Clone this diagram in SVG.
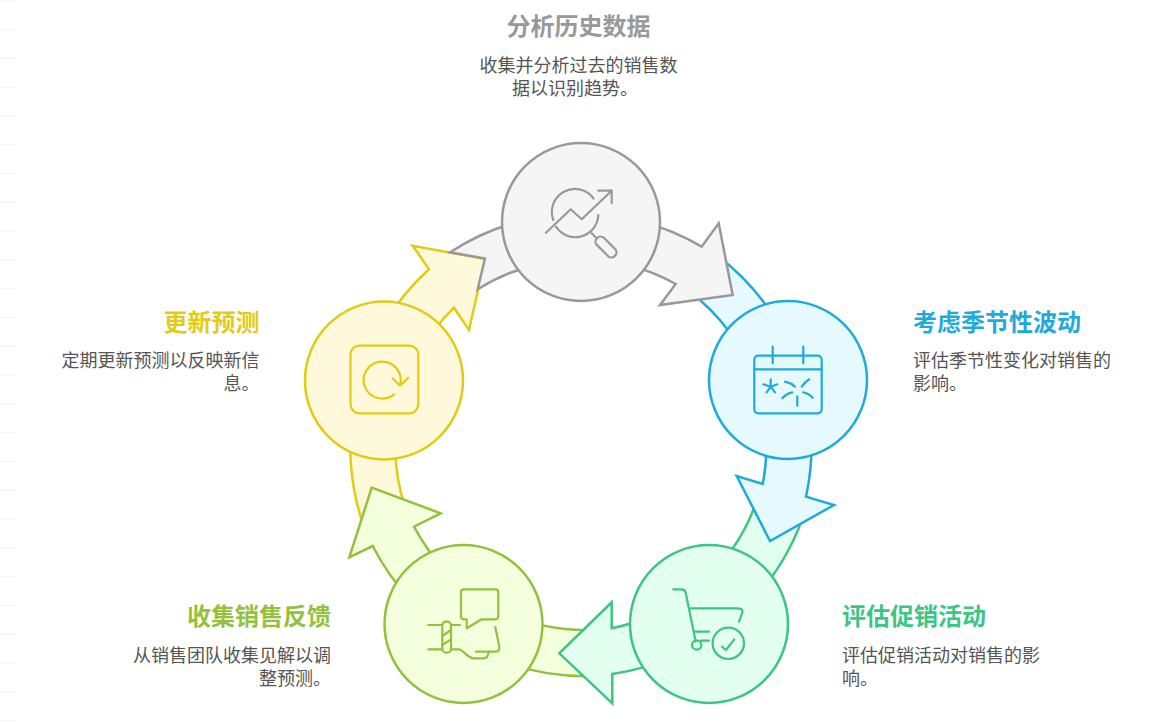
<svg xmlns="http://www.w3.org/2000/svg" width="1153" height="723" viewBox="0 0 1153 723">
<style>
text{font-family:"Noto Sans CJK SC","Noto Sans",sans-serif}
.t{font-size:24px;font-weight:700}
.b{font-size:18px;fill:#555}
.e{text-anchor:end}
.m{text-anchor:middle}
.c{stroke-width:2.5;stroke-linejoin:miter}
.i{fill:none;stroke-width:2.2;stroke-linecap:round;stroke-linejoin:round}
.gray{stroke:#999;fill:#f5f5f5}
.blue{stroke:#1eabda;fill:#e6f9ff}
.green{stroke:#3cc583;fill:#e3fff0}
.lime{stroke:#93c13c;fill:#f3ffdd}
.yellow{stroke:#e3cb14;fill:#fff9db}
</style>
<path id="edge-marks" fill="none" stroke="#f5f5f5" stroke-width="1.4" d="M0,1H16.7M0,29.5H16.7M0,58.3H16.7M0,87.2H16.7M0,115.8H16.7M0,144.6H16.7M0,173.4H16.7M0,202.2H16.7M0,231H16.7M0,259.8H16.7M0,288.6H16.7M0,317.4H16.7M0,346.2H16.7M0,375H16.7M0,403.8H16.7M0,432.6H16.7M0,461.4H16.7M0,490.2H16.7M0,519H16.7M0,547.8H16.7M0,576.6H16.7M0,605.4H16.7M0,634.2H16.7M0,663H16.7M0,691.8H16.7M0,720.6H16.7"/>
<g id="connectors">
<path class="c yellow" d="M367,535A240,240 0 0 1 429,269.3L412.7,245.7L485,259L469,330L454,307.7A194.5,194.5 0 0 0 406,510Z"/>
<path class="c lime" d="M595,676A240,240 0 0 1 372.7,546L349.3,557.3L371.7,487.7L440.7,513.3L414,526.7A194.5,194.5 0 0 0 595,630Z"/>
<path class="c green" d="M806,508A240,240 0 0 1 612.3,674V703.3L559.3,653.3L611.7,602.3V628.3A195,195 0 0 0 757,500Z"/>
<path class="c blue" d="M718,256A240,240 0 0 1 806,496.7L834,505L770,541L736.7,476L762.7,484A194,194 0 0 0 690,292Z"/>
<path class="c gray" d="M450,252.3A240,240 0 0 1 701.7,246.7L718.7,223.3L732.7,295L660,305L675.7,284A195,195 0 0 0 477.7,289.3L485,258.5Z"/>
</g>
<g id="node-analyze">
<circle class="c gray" cx="581" cy="222" r="79"/>
<g class="i gray" style="fill:none">
<path d="M553.3,220A23,23 0 0 1 593.5,198.5M598.3,215A23,23 0 0 1 556,226.7"/>
<path d="M546,232.7L570.7,209.3L581.7,219.3L611.7,190.7M598.3,190.7H611.7V203.3M591.7,233.3L596.7,238.3"/>
<rect x="-12.5" y="-5" width="25" height="10" rx="4.5" transform="translate(606,247) rotate(45)"/>
</g>
<text class="t m" x="578.5" y="35" fill="#999">分析历史数据</text>
<text class="b m" x="578.5" y="72">收集并分析过去的销售数</text>
<text class="b m" x="575" y="95">据以识别趋势。</text>
</g>
<g id="node-season">
<circle class="c blue" cx="788" cy="380" r="79"/>
<g class="i blue" style="fill:none">
<rect x="754.3" y="355.7" width="67.4" height="57.6" rx="4"/>
<path d="M754.3,369.3H821.7M772.7,346.7V363.3M803.3,346.7V363.3"/>
<path d="M770.7,379.3V386.7M763.3,384.3L770.7,386.7L777.3,384.3M766.7,392.3L770.7,386.7L775,392.3"/>
<path d="M785,381.7Q791,383 795,386.7M801.7,386.7Q805,382 809.3,379.3M782.3,398.3Q787,393 792.3,392.3M803.3,392.3Q808,393 812.7,397.7M797.3,396.7V405.7"/>
</g>
<text class="t" x="913" y="331" fill="#1eabda">考虑季节性波动</text>
<text class="b" x="913" y="367">评估季节性变化对销售的</text>
<text class="b" x="913" y="390">影响。</text>
</g>
<g id="node-promo">
<circle class="c green" cx="709" cy="624" r="79"/>
<g class="i green" style="fill:none">
<path d="M673.3,589.3H681.5Q685,589.3 685.7,592.7L695.7,641.7M691,608.3H737Q743,608.3 742.5,612L739,621.7M695,631.7H709M701,640.7H709M722,646.7L726,650L734.3,639.3"/>
<circle cx="696.7" cy="645" r="4.7"/>
<circle cx="728.3" cy="643.3" r="15.7"/>
</g>
<text class="t" x="842" y="625" fill="#3cc583">评估促销活动</text>
<text class="b" x="842" y="662">评估促销活动对销售的影</text>
<text class="b" x="842" y="685">响。</text>
</g>
<g id="node-feedback">
<circle class="c lime" cx="463.5" cy="624" r="79"/>
<g class="i lime" style="fill:none">
<path d="M464,589.3H495.3Q498.3,589.3 498.3,592.3V616.3Q498.3,619.3 495.3,619.3H481.7L466.7,628.3V619.3H464Q461,619.3 461,616.3V592.3Q461,589.3 464,589.3Z"/>
<rect x="442.3" y="621.7" width="8.7" height="31" rx="4"/>
<path d="M428.3,625H442.3M451,625H460M428.3,649.3H442.3M442.3,636L451,630M442.3,645L451,639.3"/>
<path d="M451,649.3H459C463,649.3 467,658.3 474,658.3H484Q488,658 488.5,652.7M476,651.7H495Q500,651.7 499.3,646.7L495.3,627"/>
</g>
<text class="t e" x="331" y="625" fill="#93c13c">收集销售反馈</text>
<text class="b e" x="331" y="662">从销售团队收集见解以调</text>
<text class="b e" x="331" y="685">整预测。</text>
</g>
<g id="node-update">
<circle class="c yellow" cx="384" cy="380.5" r="79"/>
<g class="i yellow" style="fill:none">
<rect x="350.5" y="345.7" width="67.8" height="67.6" rx="9"/>
<path d="M394,394.3A18.5,18.5 0 1 1 400,385M392.7,378.3L400,385.7L408.3,377.7"/>
</g>
<text class="t e" x="259.5" y="331" fill="#e3cb14">更新预测</text>
<text class="b e" x="259.5" y="367">定期更新预测以反映新信</text>
<text class="b e" x="259.5" y="390">息。</text>
</g>
</svg>
